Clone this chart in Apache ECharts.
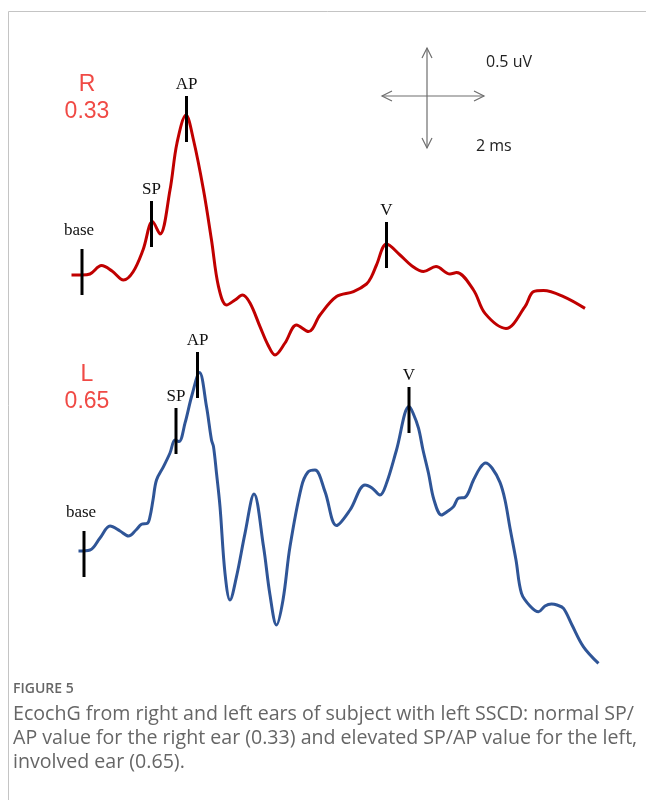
<!DOCTYPE html>
<html><head><meta charset="utf-8">
<script src="https://cdn.jsdelivr.net/npm/echarts@6/dist/echarts.min.js"></script>
<style>html,body{margin:0;padding:0;background:#fff}#c{width:646px;height:800px}</style>
</head><body><div id="c"></div>
<script>
// Right ear (red) trace: time in ms from the base marker, amplitude in µV from the baseline
const redTime = [-0.21,0,0.16,0.39,0.6,0.83,1.02,1.22,1.41,1.56,1.76,1.9,2.08,2.23,2.43,2.59,2.73,2.89,3.06,3.21,3.36,3.56,3.72,3.86,4.06,4.29,4.53,4.76,5.09,5.43,5.69,5.79,5.89,6.09,6.36,6.6,6.83,7.08,7.36,7.49,7.83,8.06,8.48,8.86,9.03,9.23,9.63,10.06];
const redAmp  = [0,0,0.005,0.047,0.02,-0.025,0.015,0.125,0.267,0.205,0.425,0.66,0.8,0.675,0.425,0.175,-0.058,-0.15,-0.125,-0.1,-0.14,-0.258,-0.35,-0.4,-0.34,-0.25,-0.283,-0.2,-0.108,-0.083,-0.045,-0.008,0.05,0.155,0.1,0.045,0.017,0.042,0.005,0.012,-0.075,-0.192,-0.267,-0.158,-0.083,-0.078,-0.108,-0.167];

// Left ear (blue) trace
const blueTime = [-0.07,0.16,0.36,0.56,0.76,0.93,1.08,1.19,1.31,1.36,1.42,1.49,1.63,1.76,1.86,1.94,2.06,2.2,2.35,2.49,2.59,2.63,2.69,2.76,2.86,2.96,3.09,3.26,3.44,3.63,3.76,3.89,4.02,4.16,4.39,4.52,4.66,4.86,5.09,5.36,5.66,5.8,5.96,6.09,6.29,6.54,6.62,6.73,6.82,6.93,7.04,7.19,7.32,7.43,7.53,7.66,7.83,7.96,8.07,8.2,8.36,8.46,8.56,8.68,8.79,8.96,9.13,9.26,9.39,9.5,9.63,9.8,10.03,10.33];
const blueAmp  = [0,0.005,0.065,0.125,0.1,0.075,0.105,0.134,0.139,0.172,0.255,0.355,0.422,0.49,0.555,0.547,0.639,0.78,0.892,0.722,0.555,0.522,0.389,0.222,-0.112,-0.245,-0.128,0.088,0.285,0.022,-0.22,-0.37,-0.245,0.022,0.322,0.395,0.405,0.297,0.127,0.205,0.33,0.315,0.28,0.339,0.505,0.722,0.69,0.614,0.505,0.389,0.255,0.18,0.2,0.222,0.264,0.268,0.355,0.415,0.44,0.415,0.343,0.255,0.115,-0.045,-0.212,-0.275,-0.304,-0.275,-0.265,-0.27,-0.287,-0.37,-0.479,-0.562];

// Peak markers
const redMarkerLabels = ['base','SP','AP','V'];
const redMarkerTime   = [0,1.39,2.09,6.09];
const redMarkerAmp    = [0.015,0.255,0.78,0.15];
const blueMarkerLabels = ['base','SP','AP','V'];
const blueMarkerTime   = [0.04,1.88,2.31,6.54];
const blueMarkerAmp    = [-0.015,0.6,0.88,0.705];

// Ratio labels
const earNames  = ['R','L'];
const spApRatio = ['0.33','0.65'];
const scaleAmpLabel  = '0.5 uV';
const scaleTimeLabel = '2 ms';
const captionTitle = 'FIGURE 5';
const captionLines = [
  'EcochG from right and left ears of subject with left SSCD: normal SP/',
  'AP value for the right ear (0.33) and elevated SP/AP value for the left,',
  'involved ear (0.65).'
];

const W = 646, H = 800, PX_MS = 50, PX_UV = 200;
const X0 = 82;          // pixel of t=0
const RED_BASE = 275;   // pixel of red baseline
const BLUE_BASE = 551;  // pixel of blue baseline
const HALF = 0.115;     // half marker length in µV

const chart = echarts.init(document.getElementById('c'), null, {renderer:'canvas'});

function zip(a,b){return a.map((v,i)=>[v,b[i]]);}

function markerSeries(xi, yi, labels, times, amps){
  return {
    type:'custom', xAxisIndex:xi, yAxisIndex:yi, silent:true, z:10, clip:false,
    data: times.map((t,i)=>[t, amps[i], i]),
    renderItem: function(params, api){
      const t = api.value(0), a = api.value(1), i = api.value(2);
      const top = api.coord([t, a + HALF]);
      const bot = api.coord([t, a - HALF]);
      const lab = labels[i];
      const gap = lab === 'base' ? 18 : 11;
      return {type:'group', children:[
        {type:'line', shape:{x1:top[0],y1:top[1],x2:bot[0],y2:bot[1]}, style:{stroke:'#000', lineWidth:3}},
        {type:'text', x: top[0] + (lab==='base' ? -3 : 0), y: top[1]-gap,
         style:{text:lab, font:'17px "Liberation Serif"', fill:'#111', align:'center', verticalAlign:'middle'}}
      ]};
    }
  };
}

const xmin = -X0/PX_MS, xmax = (W-X0)/PX_MS;
const option = {
  animation:false,
  backgroundColor:'#fff',
  grid:[
    {left:0,right:0,top:0,bottom:0},
    {left:0,right:0,top:0,bottom:0}
  ],
  xAxis:[
    {type:'value', gridIndex:0, min:xmin, max:xmax, show:false},
    {type:'value', gridIndex:1, min:xmin, max:xmax, show:false}
  ],
  yAxis:[
    {type:'value', gridIndex:0, min:-(H-RED_BASE)/PX_UV, max:RED_BASE/PX_UV, show:false},
    {type:'value', gridIndex:1, min:-(H-BLUE_BASE)/PX_UV, max:BLUE_BASE/PX_UV, show:false}
  ],
  series:[
    {type:'line', xAxisIndex:0, yAxisIndex:0, data:zip(redTime,redAmp), showSymbol:false, smooth:0.35,
     lineStyle:{color:'#c00000', width:3}, z:3, silent:true},
    {type:'line', xAxisIndex:1, yAxisIndex:1, data:zip(blueTime,blueAmp), showSymbol:false, smooth:0.35,
     lineStyle:{color:'#2f5597', width:3}, z:3, silent:true},
    markerSeries(0,0,redMarkerLabels,redMarkerTime,redMarkerAmp),
    markerSeries(1,1,blueMarkerLabels,blueMarkerTime,blueMarkerAmp)
  ],
  graphic:[
    // figure frame
    {type:'polyline', shape:{points:[[8.5,800],[8.5,11.5],[646,11.5]]}, style:{stroke:'#c4c4c4', lineWidth:1, fill:null}, silent:true},
    // ear labels
    {type:'text', x:87, y:85, style:{text:earNames[0], font:'23px "Liberation Sans"', fill:'#f04a45', align:'center', verticalAlign:'middle'}},
    {type:'text', x:87, y:112, style:{text:spApRatio[0], font:'23px "Liberation Sans"', fill:'#f04a45', align:'center', verticalAlign:'middle'}},
    {type:'text', x:87, y:375, style:{text:earNames[1], font:'23px "Liberation Sans"', fill:'#f04a45', align:'center', verticalAlign:'middle'}},
    {type:'text', x:87, y:402, style:{text:spApRatio[1], font:'23px "Liberation Sans"', fill:'#f04a45', align:'center', verticalAlign:'middle'}},
    // scale cross
    {type:'line', shape:{x1:427,y1:48,x2:427,y2:148}, style:{stroke:'#6e6e6e', lineWidth:1.2}},
    {type:'line', shape:{x1:382,y1:96,x2:484,y2:96}, style:{stroke:'#6e6e6e', lineWidth:1.2}},
    {type:'polyline', shape:{points:[[422,58],[427,48],[432,58]]}, style:{stroke:'#6e6e6e', lineWidth:1.2, fill:null}},
    {type:'polyline', shape:{points:[[422,138],[427,148],[432,138]]}, style:{stroke:'#6e6e6e', lineWidth:1.2, fill:null}},
    {type:'polyline', shape:{points:[[392,91],[382,96],[392,101]]}, style:{stroke:'#6e6e6e', lineWidth:1.2, fill:null}},
    {type:'polyline', shape:{points:[[474,91],[484,96],[474,101]]}, style:{stroke:'#6e6e6e', lineWidth:1.2, fill:null}},
    {type:'text', x:486, y:62, style:{text:scaleAmpLabel, font:'16px "Open Sans"', fill:'#222', align:'left', verticalAlign:'middle'}},
    {type:'text', x:476, y:146, style:{text:scaleTimeLabel, font:'16px "Open Sans"', fill:'#222', align:'left', verticalAlign:'middle'}},
    // caption
    {type:'text', x:13, y:689, style:{text:captionTitle, font:'600 14px "Open Sans"', fill:'#666', align:'left', verticalAlign:'middle'}},
    {type:'text', x:13, y:714, style:{text:captionLines[0], font:'19.6px "Open Sans"', fill:'#666', align:'left', verticalAlign:'middle'}},
    {type:'text', x:13, y:738, style:{text:captionLines[1], font:'19.6px "Open Sans"', fill:'#666', align:'left', verticalAlign:'middle'}},
    {type:'text', x:13, y:762, style:{text:captionLines[2], font:'19.6px "Open Sans"', fill:'#666', align:'left', verticalAlign:'middle'}}
  ]
};
chart.setOption(option);
</script>
</body></html>
